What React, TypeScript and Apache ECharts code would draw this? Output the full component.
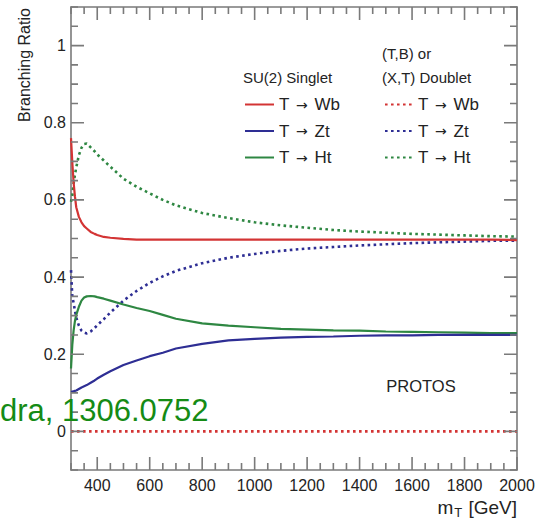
import React, { useEffect, useRef } from "react";
import * as echarts from "echarts";

// ---------- data ----------
const massGeV = [300, 305, 310, 315, 320, 330, 340, 350, 360, 375, 390, 400, 425, 450, 500, 550, 600, 650, 700, 800, 900, 1000, 1100, 1200, 1300, 1400, 1500, 1600, 1700, 1800, 1900, 2000];

// SU(2) singlet
const singletWb = [0.760, 0.697, 0.645, 0.609, 0.581, 0.556, 0.542, 0.532, 0.526, 0.517, 0.512, 0.509, 0.504, 0.502, 0.499, 0.497, 0.497, 0.497, 0.497, 0.497, 0.497, 0.497, 0.497, 0.497, 0.497, 0.497, 0.497, 0.497, 0.497, 0.497, 0.497, 0.496];
const singletZt = [0.102, 0.103, 0.104, 0.105, 0.106, 0.110, 0.114, 0.117, 0.120, 0.126, 0.132, 0.137, 0.147, 0.156, 0.172, 0.184, 0.195, 0.204, 0.215, 0.227, 0.236, 0.240, 0.243, 0.245, 0.246, 0.248, 0.249, 0.249, 0.250, 0.250, 0.250, 0.250];
const singletHt = [0.163, 0.225, 0.262, 0.286, 0.302, 0.323, 0.339, 0.347, 0.350, 0.351, 0.350, 0.348, 0.344, 0.339, 0.329, 0.320, 0.312, 0.302, 0.292, 0.280, 0.274, 0.270, 0.266, 0.264, 0.262, 0.261, 0.259, 0.258, 0.257, 0.256, 0.255, 0.255];

// (T,B) or (X,T) doublet
const doubletWb = [0, 0, 0, 0, 0, 0, 0, 0, 0, 0, 0, 0, 0, 0, 0, 0, 0, 0, 0, 0, 0, 0, 0, 0, 0, 0, 0, 0, 0, 0, 0, 0];
const doubletZt = [0.418, 0.349, 0.333, 0.313, 0.295, 0.274, 0.261, 0.256, 0.254, 0.259, 0.268, 0.275, 0.291, 0.308, 0.339, 0.364, 0.385, 0.402, 0.416, 0.436, 0.450, 0.460, 0.468, 0.474, 0.478, 0.482, 0.485, 0.488, 0.490, 0.492, 0.494, 0.494];
const doubletHt = [0.595, 0.611, 0.643, 0.665, 0.684, 0.716, 0.735, 0.745, 0.746, 0.736, 0.726, 0.718, 0.702, 0.686, 0.655, 0.634, 0.617, 0.600, 0.586, 0.566, 0.553, 0.542, 0.534, 0.528, 0.522, 0.518, 0.515, 0.512, 0.510, 0.508, 0.506, 0.505];

const decayParts = [["T", "Wb"], ["T", "Zt"], ["T", "Ht"]];

// axis ranges and tick labels
const X_MIN = 300, X_MAX = 2000, X_MINOR = 50, X_MAJOR = 200;
const Y_MIN = -0.1, Y_MAX = 1.1, Y_MINOR = 0.05, Y_MAJOR = 0.2;
const xTickLabels = [400, 600, 800, 1000, 1200, 1400, 1600, 1800, 2000];
const yTickLabels = [0, 0.2, 0.4, 0.6, 0.8, 1];

// ---------- styling / layout ----------
const FONT = "'Liberation Sans', Arial, Helvetica, sans-serif";
const FRAME = "#7a7a7a";
const TEXT = "#232323";
const RED = "#d33434";
const BLUE = "#2e2e94";
const GREEN = "#2e8742";
const W = 537, H = 518;
const G_LEFT = 71, G_RIGHT = 20, G_TOP = 7, G_BOTTOM = 48;
const pxPerX = (W - G_LEFT - G_RIGHT) / (X_MAX - X_MIN);
const pxPerY = (H - G_TOP - G_BOTTOM) / (Y_MAX - Y_MIN);
const MAJOR_LEN = 13, MINOR_LEN = 7; // tick lengths in pixels

function stepValues(from: number, to: number, step: number) {
  const out: number[] = [];
  const n = Math.round((to - from) / step);
  for (let i = 0; i <= n; i++) out.push(+(from + i * step).toFixed(4));
  return out;
}
const isMultiple = (v: number, step: number) => Math.abs(v / step - Math.round(v / step)) < 1e-6;

// tick marks as broken line segments on the frame (null values break the line)
function xTickSegments() {
  const out: any[] = [];
  stepValues(X_MIN, X_MAX, X_MINOR).forEach((v) => {
    const d = (isMultiple(v, X_MAJOR) ? MAJOR_LEN : MINOR_LEN) / pxPerY;
    out.push([v, Y_MIN], [v, Y_MIN + d], [v, null], [v, Y_MAX], [v, Y_MAX - d], [v, null]);
  });
  return out;
}
function yTickSegments() {
  const out: any[] = [];
  stepValues(Y_MIN, Y_MAX, Y_MINOR).forEach((v) => {
    const d = (isMultiple(v, Y_MAJOR) ? MAJOR_LEN : MINOR_LEN) / pxPerX;
    out.push([X_MIN, v], [X_MIN + d, v], [null, v], [X_MAX, v], [X_MAX - d, v], [null, v]);
  });
  return out;
}

function frameAxis(kind: "x" | "y", position: string, labels: number[] | null) {
  return {
    type: "value",
    position,
    min: kind === "x" ? X_MIN : Y_MIN,
    max: kind === "x" ? X_MAX : Y_MAX,
    splitLine: { show: false },
    axisLine: { show: true, onZero: false, lineStyle: { color: FRAME, width: 1.6 } },
    axisTick: { show: false },
    axisLabel: labels
      ? {
          show: true,
          customValues: labels,
          fontSize: 16,
          fontFamily: FONT,
          color: TEXT,
          margin: kind === "x" ? 7 : 5,
          formatter: (v: number) => (kind === "x" ? String(Math.round(v)) : String(Math.round(v * 10) / 10)),
        }
      : { show: false },
  };
}

const seriesDefs = [
  { id: "Singlet: 0", data: singletWb, color: RED, dotted: false },
  { id: "Singlet: 1", data: singletZt, color: BLUE, dotted: false },
  { id: "Singlet: 2", data: singletHt, color: GREEN, dotted: false },
  { id: "Doublet: 0", data: doubletWb, color: RED, dotted: true },
  { id: "Doublet: 1", data: doubletZt, color: BLUE, dotted: true },
  { id: "Doublet: 2", data: doubletHt, color: GREEN, dotted: true },
];

function legendBlock(names: string[], left: number, iconW: number) {
  return {
    data: names,
    left,
    top: 96,
    padding: 0,
    orient: "vertical",
    itemWidth: iconW,
    itemHeight: 14,
    itemGap: 9.5,
    selectedMode: false,
    itemStyle: { opacity: 0 },
    formatter: (name: string) => {
      const p = decayParts[Number(name.split(": ")[1])];
      return p[0] + " {arr|\u2192} " + p[1];
    },
    textStyle: {
      fontSize: 17,
      lineHeight: 16,
      fontFamily: FONT,
      color: TEXT,
      rich: { arr: { fontFamily: "'DejaVu Sans', sans-serif", fontSize: 14, lineHeight: 16, color: TEXT, padding: [0, 2, 0, 2] } },
    },
  };
}

const textGraphics: any[] = [
  {
    type: "text",
    x: 24,
    y: 65,
    rotation: Math.PI / 2,
    style: { text: "Branching Ratio", fontSize: 16, fontFamily: FONT, fill: TEXT, textAlign: "center", textVerticalAlign: "middle" },
  },
  {
    type: "text",
    x: 517,
    y: 507,
    style: {
      text: "m{sub|T} [GeV]",
      fontSize: 19,
      fontFamily: FONT,
      fill: TEXT,
      textAlign: "right",
      textVerticalAlign: "middle",
      rich: { sub: { fontSize: 13, fontFamily: FONT, fill: TEXT, padding: [10, 1, 0, 1] } },
    },
  },
  { type: "text", x: 243, y: 77, style: { text: "SU(2) Singlet", fontSize: 15, fontFamily: FONT, fill: TEXT, textVerticalAlign: "middle" } },
  { type: "text", x: 382, y: 53, style: { text: "(T,B) or", fontSize: 15, fontFamily: FONT, fill: TEXT, textVerticalAlign: "middle" } },
  { type: "text", x: 382, y: 77, style: { text: "(X,T) Doublet", fontSize: 15, fontFamily: FONT, fill: TEXT, textVerticalAlign: "middle" } },
  { type: "text", x: 421, y: 386, style: { text: "PROTOS", fontSize: 16.5, fontFamily: FONT, fill: TEXT, textAlign: "center", textVerticalAlign: "middle" } },
  { type: "text", x: 0, y: 410, z: 100, style: { text: "dra, 1306.0752", fontSize: 31, fontFamily: FONT, fill: "#158b15", textVerticalAlign: "middle" } },
];

export default function App() {
  const ref = useRef<HTMLDivElement>(null);

  useEffect(() => {
    if (!ref.current) return;
    const chart = echarts.init(ref.current, undefined, { renderer: "svg" });

    const lineSeries = seriesDefs.map((s, k) => ({
      name: s.id,
      type: "line",
      showSymbol: false,
      symbol: "none",
      z: 10 - k,
      color: s.color,
      lineStyle: s.dotted
        ? { color: s.color, width: 2.6, type: [2.6, 3.4], cap: "butt" }
        : { color: s.color, width: 2.2, type: "solid" },
      data: massGeV.map((m, i) => [m, s.data[i]]),
    }));

    const tickSeries = [xTickSegments(), yTickSegments()].map((data, k) => ({
      name: "frame ticks " + k,
      type: "line",
      silent: true,
      showSymbol: false,
      symbol: "none",
      connectNulls: false,
      clip: false,
      z: 20,
      color: FRAME,
      lineStyle: { color: FRAME, width: 1.6, type: "solid", cap: "butt" },
      data,
    }));

    const option: any = {
      animation: false,
      backgroundColor: "#ffffff",
      grid: { left: G_LEFT, right: G_RIGHT, top: G_TOP, bottom: G_BOTTOM, outerBoundsMode: "none" },
      xAxis: [frameAxis("x", "bottom", xTickLabels), frameAxis("x", "top", null)],
      yAxis: [frameAxis("y", "left", yTickLabels), frameAxis("y", "right", null)],
      legend: [
        legendBlock(seriesDefs.slice(0, 3).map((s) => s.id), 244, 29),
        legendBlock(seriesDefs.slice(3).map((s) => s.id), 384, 28),
      ],
      series: [...lineSeries, ...tickSeries],
      graphic: textGraphics,
    };

    chart.setOption(option);
    return () => chart.dispose();
  }, []);

  return (
    <div
      ref={ref}
      style={{ position: "fixed", left: 0, top: 0, width: W, height: H, background: "#fff" }}
    />
  );
}
